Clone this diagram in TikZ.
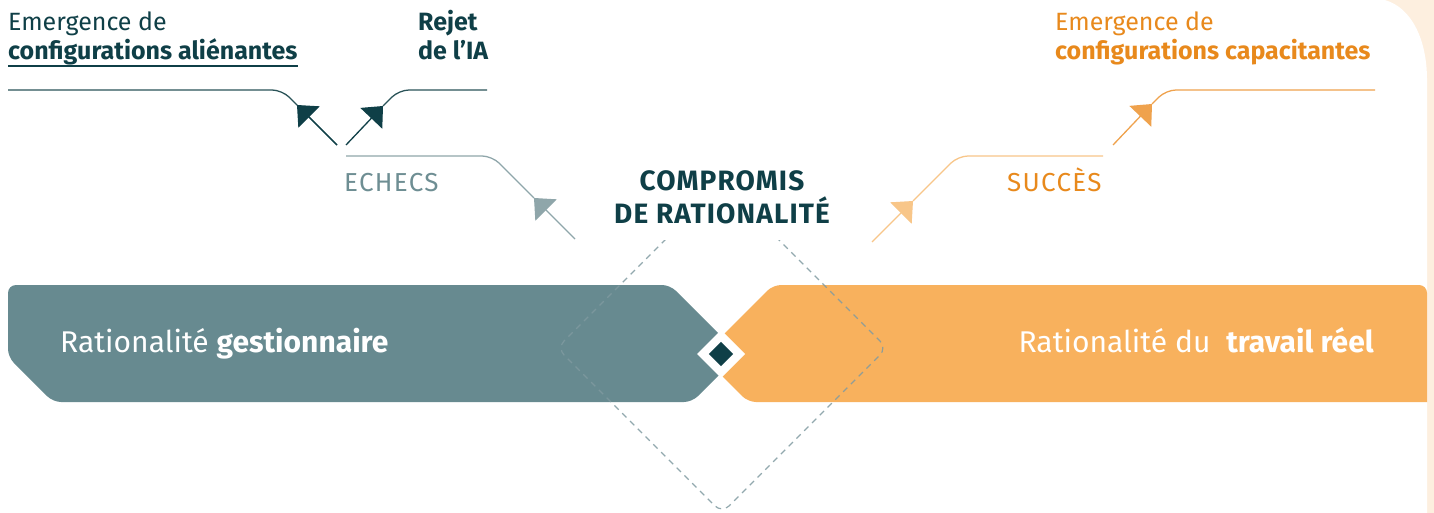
\documentclass[tikz,border=0pt]{standalone}
\usepackage{fontspec}
\setmainfont{Fira Sans}
\usetikzlibrary{arrows.meta}
\definecolor{tealdark}{HTML}{0F3F47}
\definecolor{tealline}{HTML}{2A5358}
\definecolor{grayband}{HTML}{678A90}
\definecolor{graytext}{HTML}{6E8E93}
\definecolor{grayline}{HTML}{8FA6AA}
\definecolor{orband}{HTML}{F8B15D}
\definecolor{ortext}{HTML}{E8891C}
\definecolor{orline}{HTML}{EFA24D}
\definecolor{orlight}{HTML}{F8C689}
\definecolor{paleor}{HTML}{FDEFDF}
\definecolor{dashcol}{HTML}{7F9AA0}
\begin{document}
\begin{tikzpicture}[x=1pt,y=-1pt,
  lbl/.style={inner sep=0pt, anchor=base west},
  smallfont/.style={font=\fontsize{25}{30}\selectfont},
  smallbold/.style={font=\fontsize{25}{30}\selectfont\bfseries},
  capsfont/.style={font=\fontsize{26}{30}\selectfont\addfontfeatures{LetterSpace=5}},
  bandfont/.style={font=\fontsize{30}{34}\selectfont},
  titlefont/.style={font=\fontsize{28}{32}\selectfont\bfseries\addfontfeatures{LetterSpace=4}},
  headtip/.style={-{Triangle[length=17pt,width=30pt]}},
  conn/.style={line width=1.3pt},
  bendline/.style={line width=1.3pt, rounded corners=10pt}]
\useasboundingbox (0,0) rectangle (1434,513);
% background
\fill[paleor] (0,0) rectangle (1434,513);
\fill[white] (0,0) -- (1385,0) .. controls (1412,8) and (1427,40) .. (1427,80) -- (1427,513) -- (0,513) -- cycle;
% bands
\fill[grayband, rounded corners=8pt] (300,285) -- (670,285) -- (739.5,354.5) -- (692,402) -- (53,402) -- (8,357) -- (8,285) -- cycle;
\fill[orband, rounded corners=8pt] (1100,285) -- (1427,285) [sharp corners] -- (1427,402) [rounded corners=8pt] -- (748,402) -- (702,356) -- (773,285) -- cycle;
% dashed diamond
\begin{scope}
\clip (0,240) rectangle (1434,513);
\draw[dashcol, line width=1.2pt, dash pattern=on 6pt off 5pt, rounded corners=10pt, opacity=0.85]
  (722,183) -- (887,348) -- (722,513) -- (557,348) -- cycle;
\end{scope}
% central diamond
\fill[white] (721,330) -- (745,354) -- (721,378) -- (697,354) -- cycle;
\node[fill=tealdark, minimum size=17pt, inner sep=0pt, rotate=45] (core) at (721,354) {};
% band texts
\node[lbl, bandfont, text=white] (gest) at (60,352) {Rationalité \textbf{gestionnaire}};
\node[lbl, bandfont, text=white, anchor=base east] (trav) at (1374,352) {Rationalité du\ \ \textbf{travail réel}};
% title
\node[titlefont, text=tealdark, inner sep=0pt, anchor=base] (title1) at (722,190) {COMPROMIS};
\node[titlefont, text=tealdark, inner sep=0pt, anchor=base] (title2) at (722,223) {DE RATIONALITÉ};
% top-left texts
\node[lbl, smallfont, text=tealdark] (em1) at (8,31) {Emergence de};
\node[lbl, smallbold, text=tealdark] (alien) at (8,60) {configurations aliénantes};
\coordinate (ul1) at (8,66);
\coordinate (ul2) at (298,66);
\draw[tealdark, line width=1.6pt] (ul1) -- (ul2);
\node[lbl, smallbold, text=tealdark] (rej1) at (418,31) {Rejet};
\node[lbl, smallbold, text=tealdark] (rej2) at (418,60) {de l’IA};
\node[lbl, capsfont, text=graytext] (ech) at (344,192) {ECHECS};
% top-right texts
\node[lbl, smallfont, text=ortext] (em2) at (1055,31) {Emergence de};
\node[lbl, smallbold, text=ortext] (capa) at (1055,60) {configurations capacitantes};
\node[lbl, capsfont, text=ortext] (succ) at (1007,192) {SUCCÈS};
% connectors, left
\coordinate (a1s) at (337,145); \coordinate (a1t) at (297,105); \coordinate (a1c) at (282,90); \coordinate (a1e) at (8,90);
\draw[tealline, conn] (a1t) -- (a1s);
\draw[tealdark, headtip, conn] (a1s) -- (a1t);
\draw[tealline, bendline] (a1t) -- (a1c) -- (a1e);
\coordinate (a2s) at (346,145); \coordinate (a2t) at (383,106); \coordinate (a2c) at (399,90); \coordinate (a2e) at (487,90);
\draw[tealdark, headtip, conn] (a2s) -- (a2t);
\draw[tealline, bendline] (a2t) -- (a2c) -- (a2e);
\coordinate (a3s) at (575,239); \coordinate (a3t) at (534,198); \coordinate (a3c) at (492,156); \coordinate (a3e) at (346,156);
\draw[graytext, headtip, conn, draw=grayline] (a3s) -- (a3t);
\draw[grayline, bendline] (a3t) -- (a3c) -- (a3e);
% connectors, right
\coordinate (b1s) at (872,242); \coordinate (b1t) at (913,201); \coordinate (b1c) at (958,156); \coordinate (b1e) at (1103,156);
\draw[orband, headtip, conn, draw=orlight] (b1s) -- (b1t);
\draw[orlight, bendline] (b1t) -- (b1c) -- (b1e);
\coordinate (b2s) at (1113,145); \coordinate (b2t) at (1152,104); \coordinate (b2c) at (1166,90); \coordinate (b2e) at (1375,90);
\draw[ortext, headtip, conn, draw=orline] (b2s) -- (b2t);
\draw[orline, bendline] (b2t) -- (b2c) -- (b2e);
\end{tikzpicture}
\end{document}
